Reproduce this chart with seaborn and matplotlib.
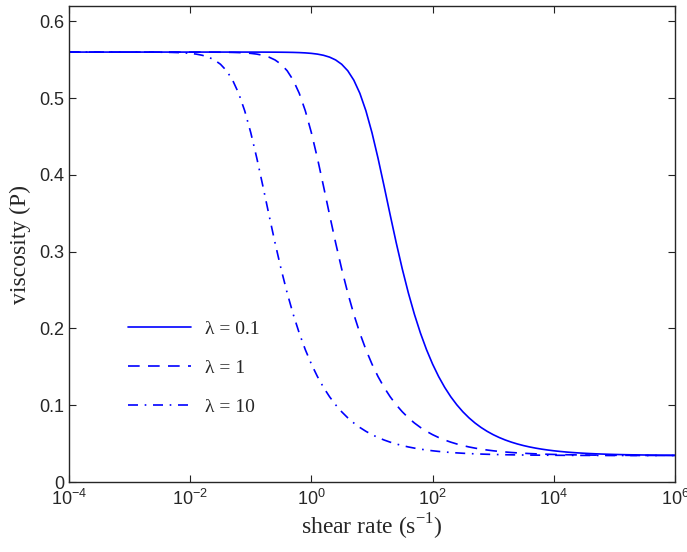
import numpy as np
import pandas as pd
import matplotlib
matplotlib.use("Agg")
import matplotlib.pyplot as plt
import seaborn as sns

# shear rate grid (log10 exponents, 0.1 decade steps from 1e-4 to 1e6)
log_shear = np.linspace(-4, 6, 101)
shear_rate = 10 ** log_shear

# viscosity (P)
visc_l01 = [0.56] * 30 + [
    0.55998, 0.55997, 0.55996, 0.55993, 0.55989, 0.55983, 0.55973, 0.55958, 0.55933, 0.55894,
    0.55832, 0.55735, 0.55582, 0.55344, 0.54976, 0.54414, 0.53572, 0.52346, 0.50631, 0.48350,
    0.45501, 0.42168, 0.38535, 0.34807, 0.31166, 0.27754, 0.24639, 0.21852, 0.19392, 0.17238,
    0.15362, 0.13734, 0.12326, 0.11107, 0.10056, 0.09147, 0.08363, 0.07687, 0.07104, 0.06602,
    0.06167, 0.05794, 0.05471, 0.05193, 0.04953, 0.04746, 0.04567, 0.04414, 0.04281, 0.04167,
    0.04068, 0.03983, 0.03909, 0.03846, 0.03792, 0.03745, 0.03704, 0.03669, 0.03639, 0.03613,
    0.03590, 0.03571, 0.03554, 0.03540, 0.03528, 0.03517, 0.03508, 0.03500, 0.03493, 0.03487,
    0.03482]
visc_l1 = [0.56] * 20 + [
    0.55998, 0.55997, 0.55996, 0.55993, 0.55989, 0.55983, 0.55973, 0.55958, 0.55933, 0.55894,
    0.55832, 0.55735, 0.55582, 0.55344, 0.54976, 0.54414, 0.53572, 0.52346, 0.50631, 0.48350,
    0.45501, 0.42168, 0.38535, 0.34807, 0.31166, 0.27754, 0.24639, 0.21852, 0.19392, 0.17238,
    0.15362, 0.13734, 0.12326, 0.11107, 0.10056, 0.09147, 0.08363, 0.07687, 0.07104, 0.06602,
    0.06167, 0.05794, 0.05471, 0.05193, 0.04953, 0.04746, 0.04567, 0.04414, 0.04281, 0.04167,
    0.04068, 0.03983, 0.03909, 0.03846, 0.03792, 0.03745, 0.03704, 0.03669, 0.03639, 0.03613,
    0.03590, 0.03571, 0.03554, 0.03540, 0.03528, 0.03517, 0.03508, 0.03500, 0.03493, 0.03487,
    0.03482, 0.03478, 0.03474, 0.03470, 0.03468, 0.03465, 0.03463, 0.03461, 0.03460, 0.03458,
    0.03457]
visc_l10 = [0.56] * 10 + [
    0.55998, 0.55997, 0.55996, 0.55993, 0.55989, 0.55983, 0.55973, 0.55958, 0.55933, 0.55894,
    0.55832, 0.55735, 0.55582, 0.55344, 0.54976, 0.54414, 0.53572, 0.52346, 0.50631, 0.48350,
    0.45501, 0.42168, 0.38535, 0.34807, 0.31166, 0.27754, 0.24639, 0.21852, 0.19392, 0.17238,
    0.15362, 0.13734, 0.12326, 0.11107, 0.10056, 0.09147, 0.08363, 0.07687, 0.07104, 0.06602,
    0.06167, 0.05794, 0.05471, 0.05193, 0.04953, 0.04746, 0.04567, 0.04414, 0.04281, 0.04167,
    0.04068, 0.03983, 0.03909, 0.03846, 0.03792, 0.03745, 0.03704, 0.03669, 0.03639, 0.03613,
    0.03590, 0.03571, 0.03554, 0.03540, 0.03528, 0.03517, 0.03508, 0.03500, 0.03493, 0.03487,
    0.03482, 0.03478, 0.03474, 0.03470, 0.03468, 0.03465, 0.03463, 0.03461, 0.03460, 0.03458,
    0.03457, 0.03456, 0.03455, 0.03455, 0.03454, 0.03453, 0.03453, 0.03452, 0.03452, 0.03451,
    0.03451]

series_labels = ["\u03bb = 0.1", "\u03bb = 1", "\u03bb = 10"]
y_ticks = [0, 0.1, 0.2, 0.3, 0.4, 0.5, 0.6]
y_ticklabels = ["0", "0.1", "0.2", "0.3", "0.4", "0.5", "0.6"]
x_ticks = [1e-4, 1e-2, 1e0, 1e2, 1e4, 1e6]

sns.set_style("ticks")
plt.rcParams["font.family"] = ["Liberation Sans", "DejaVu Sans"]
plt.rcParams["mathtext.fontset"] = "custom"
plt.rcParams["mathtext.rm"] = "Liberation Sans"
plt.rcParams["xtick.direction"] = "in"
plt.rcParams["ytick.direction"] = "in"

fig = plt.figure(figsize=(6.87, 5.52), dpi=100)
ax = fig.add_axes([0.1004, 0.1268, 0.8821, 0.8623])

styles = ["-", (0, (7, 5)), (0, (6, 4, 1, 4))]
for vals, lab, ls in zip([visc_l01, visc_l1, visc_l10], series_labels, styles):
    df = pd.DataFrame({"shear": shear_rate, "visc": vals})
    sns.lineplot(data=df, x="shear", y="visc", ax=ax, color="#0000ff",
                 linewidth=1.2, linestyle=ls, label=lab)

ax.set_xscale("log")
ax.set_xlim(1e-4, 1e6)
ax.set_ylim(0, 0.62)
ax.set_xticks(x_ticks)
ax.xaxis.set_minor_locator(matplotlib.ticker.NullLocator())
ax.set_yticks(y_ticks)
ax.set_yticklabels(y_ticklabels)
ax.tick_params(axis="both", which="major", labelsize=13, length=5, width=0.8,
               top=True, right=True, color="#222222")
ax.tick_params(axis="x", pad=5)
for s in ax.spines.values():
    s.set_linewidth(1.0)
    s.set_visible(True)

serif = ["Liberation Serif", "DejaVu Serif"]
ax.set_xlabel("shear rate (s$^{\\mathregular{-1}}$)", fontsize=17, family=serif, labelpad=2)
ax.set_ylabel("viscosity (P)", fontsize=17, family=serif, labelpad=6)

leg = ax.legend(loc="upper left", bbox_to_anchor=(0.069, 0.377), frameon=False,
                handlelength=3.2, handletextpad=0.75, labelspacing=1.1,
                prop={"family": serif, "size": 14})

fig.savefig("out.png", dpi=100)
